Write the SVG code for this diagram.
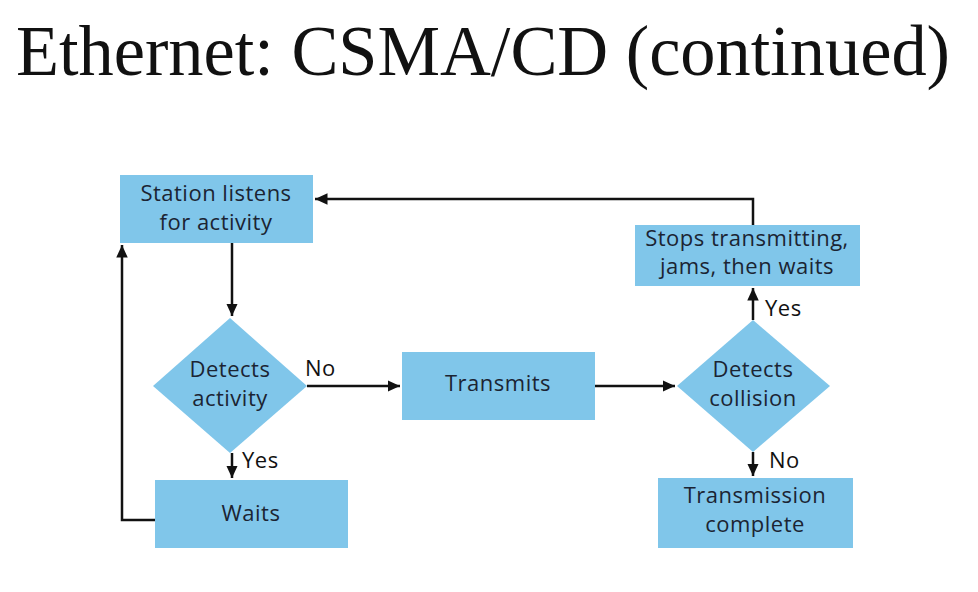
<svg xmlns="http://www.w3.org/2000/svg" width="978" height="592" viewBox="0 0 978 592">
<defs>
<marker id="ah" viewBox="0 0 10 10" refX="10" refY="5" markerWidth="5" markerHeight="4.6" markerUnits="strokeWidth" orient="auto" preserveAspectRatio="none"><path d="M0,0 L10,5 L0,10 z" fill="#111"/></marker>
<style>
.box{fill:#80c6ea}
.t{font-family:"Open Sans","Liberation Sans",sans-serif;font-size:22px;letter-spacing:0.5px;fill:#1b2433;text-anchor:middle}
.lbl{font-family:"Open Sans","Liberation Sans",sans-serif;font-size:22px;letter-spacing:0.5px;fill:#111}
.c{fill:none;stroke:#111;stroke-width:2.5}
.title{font-family:"Liberation Serif","Times New Roman",serif;font-size:72px;fill:#111}
</style>
</defs>
<rect width="978" height="592" fill="#fff"/>
<text class="title" x="16" y="75" textLength="934" lengthAdjust="spacingAndGlyphs">Ethernet: CSMA/CD (continued)</text>
<g id="listen"><rect class="box" x="120" y="175" width="193" height="68"/><text class="t" x="216" y="201">Station listens</text><text class="t" x="216" y="230">for activity</text></g>
<g id="detect1"><polygon class="box" points="230,318 307,386 230,453 153,386"/><text class="t" x="230" y="377">Detects</text><text class="t" x="230" y="406">activity</text></g>
<g id="waits"><rect class="box" x="155" y="480" width="193" height="68"/><text class="t" x="251" y="521">Waits</text></g>
<g id="transmits"><rect class="box" x="402" y="352" width="193" height="68"/><text class="t" x="498" y="391">Transmits</text></g>
<g id="detect2"><polygon class="box" points="753,320 830,386 753,452 677,386"/><text class="t" x="753" y="377">Detects</text><text class="t" x="753" y="406">collision</text></g>
<g id="stops"><rect class="box" x="635" y="225" width="225" height="61"/><text class="t" x="747" y="246">Stops transmitting,</text><text class="t" x="747" y="274">jams, then waits</text></g>
<g id="complete"><rect class="box" x="658" y="478" width="195" height="70"/><text class="t" x="755" y="503">Transmission</text><text class="t" x="755" y="532">complete</text></g>
<g id="connectors">
<path class="c" d="M232,243 V316" marker-end="url(#ah)"/>
<path class="c" d="M307,386 H400" marker-end="url(#ah)"/>
<path class="c" d="M232,453 V478" marker-end="url(#ah)"/>
<path class="c" d="M155,520 H122 V245" marker-end="url(#ah)"/>
<path class="c" d="M595,386 H675" marker-end="url(#ah)"/>
<path class="c" d="M753,320 V288" marker-end="url(#ah)"/>
<path class="c" d="M753,452 V476" marker-end="url(#ah)"/>
<path class="c" d="M753,225 V199 H315" marker-end="url(#ah)"/>
<text class="lbl" x="305" y="376">No</text>
<text class="lbl" x="242" y="468">Yes</text>
<text class="lbl" x="765" y="316">Yes</text>
<text class="lbl" x="769" y="468">No</text>
</g>
</svg>
